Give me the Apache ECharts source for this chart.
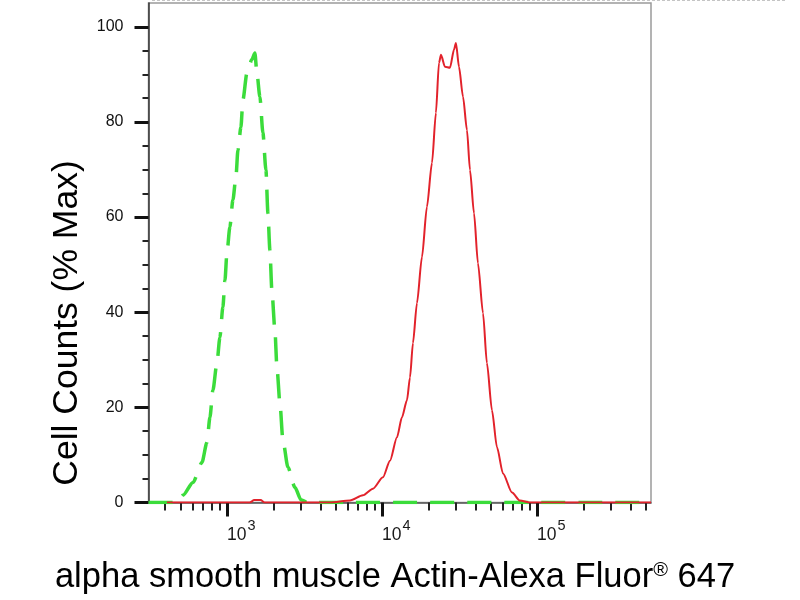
<!DOCTYPE html>
<html><head><meta charset="utf-8">
<script src="https://cdn.jsdelivr.net/npm/echarts@6/dist/echarts.min.js"></script>
<style>html,body{margin:0;padding:0;background:#fff}#c{width:800px;height:600px}</style>
</head><body><div id="c"></div>
<script>
// Axis ranges and ticks
const xMin = 312, xMax = 544000;
const yMin = 0, yMax = 105;
const xMajorTicks = [1000, 10000, 100000];
const xMinorTicks = [400,500,600,700,800,900,2000,3000,4000,5000,6000,7000,8000,9000,20000,30000,40000,50000,60000,70000,80000,90000,200000,300000,400000,500000];
const yMajorTicks = [0, 20, 40, 60, 80, 100];
const yMinorTicks = [5,10,15,25,30,35,45,50,55,65,70,75,85,90,95];

// Isotype control (green dashed)
const controlX = [312, 480, 520, 604, 690, 743, 777, 812, 862, 901, 942, 971, 1000, 1045, 1093, 1143, 1178, 1231, 1268, 1346, 1449, 1515, 1561, 1632, 1707, 1785, 1839, 1893, 1950, 2040, 2102, 2198, 2297, 2476, 2745, 3000, 3300, 544000];
const controlY = [0, 0, 1.5, 4.2, 8.4, 12.6, 17.9, 23.6, 29.3, 34.7, 41.1, 46.7, 52.4, 57.9, 63.6, 68.4, 74.1, 78.9, 84.6, 90.3, 93.1, 94.5, 90.3, 85.3, 77.7, 69.9, 60.8, 53.1, 44.6, 36.2, 28.4, 20.8, 13.1, 7.4, 3.2, 0.6, 0, 0];

// Antibody stained (red)
const stainedX = [410, 1400, 1500, 1650, 1750, 4624, 6223, 7540, 8750, 10145, 11270, 12500, 13460, 14500, 15170, 15850, 16820, 18120, 19500, 21030, 22290, 23330, 24040, 25480, 27470, 29170, 30020, 31400, 33340, 35350, 36980, 39260, 41620, 44870, 47550, 51250, 55210, 60390, 69020, 77640, 90160, 544000];
const stainedY = [0, 0, 0.5, 0.5, 0, 0, 0.4, 1.5, 2.9, 5.3, 8.8, 13.7, 17.9, 21.5, 26.3, 33.5, 41.9, 51.6, 62.1, 71.4, 81.9, 92.4, 94.1, 91.6, 91.4, 95.2, 96.6, 91.6, 85.3, 78.3, 69.9, 60.8, 50.3, 39.8, 29.3, 19.4, 11.6, 6.1, 2.1, 0.4, 0, 0];

const yTitle = 'Cell Counts (% Max)';
const xTitleMain = 'alpha smooth muscle Actin-Alexa Fluor';
const xTitleSup = '®';
const xTitleEnd = ' 647';

const FONT = '"Liberation Sans", Arial, sans-serif';
const pairs = (xs, ys) => xs.map((x, i) => [x, ys[i]]);

const chart = echarts.init(document.getElementById('c'), null, {renderer: 'canvas'});
chart.setOption({
  animation: false,
  backgroundColor: '#fff',
  grid: {left: 148.5, right: 149, top: 3, bottom: 97.5, show: true, borderColor: '#9a9a9a', borderWidth: 1.5, containLabel: false, outerBoundsMode: 'none'},
  xAxis: [{
    type: 'log', logBase: 10, min: xMin, max: xMax, position: 'bottom',
    axisLine: {show: true, lineStyle: {color: '#555', width: 1.5}},
    axisTick: {show: true, customValues: xMajorTicks, length: 14, lineStyle: {color: '#111', width: 3}},
    axisLabel: {
      show: true, customValues: xMajorTicks, margin: 20, align: 'left',
      formatter: v => '{b|10}{s|' + Math.round(Math.log10(v)) + '}',
      rich: {
        b: {fontSize: 17.5, lineHeight: 17, padding: [8, 0, 0, 0], color: '#1a1a1a', fontFamily: FONT},
        s: {fontSize: 14.5, lineHeight: 14, padding: [0, 0, 11, 1], color: '#1a1a1a', fontFamily: FONT}
      }
    },
    splitLine: {show: false}, minorTick: {show: false}
  }, {
    type: 'log', logBase: 10, min: xMin, max: xMax, position: 'bottom',
    axisLine: {show: false},
    axisTick: {show: true, customValues: xMinorTicks, length: 8, lineStyle: {color: '#222', width: 2}},
    axisLabel: {show: false}, splitLine: {show: false}
  }],
  yAxis: [{
    type: 'value', min: yMin, max: yMax, position: 'left',
    axisLine: {show: true, lineStyle: {color: '#333', width: 1.5}},
    axisTick: {show: true, customValues: yMajorTicks, length: 14, lineStyle: {color: '#111', width: 3}},
    axisLabel: {show: true, customValues: yMajorTicks, margin: 25, fontSize: 16, color: '#111', fontFamily: FONT},
    splitLine: {show: false}
  }, {
    type: 'value', min: yMin, max: yMax, position: 'left', offset: 0,
    axisLine: {show: false},
    axisTick: {show: true, customValues: yMinorTicks, length: 6, lineStyle: {color: '#222', width: 2}},
    axisLabel: {show: false}, splitLine: {show: false}
  }],
  series: [{
    name: 'control', type: 'line', xAxisIndex: 0, yAxisIndex: 0,
    data: pairs(controlX, controlY), showSymbol: false, symbol: 'none',
    smooth: 0.25, smoothMonotone: 'x',
    lineStyle: {color: '#3bdc3b', width: 3.5, type: [24, 13]}
  }, {
    name: 'stained', type: 'line', xAxisIndex: 0, yAxisIndex: 0,
    data: pairs(stainedX, stainedY), showSymbol: false, symbol: 'none',
    smooth: 0.25, smoothMonotone: 'x',
    lineStyle: {color: '#e2222b', width: 2}
  }],
  graphic: [{
    type: 'line', shape: {x1: 152, y1: 0.5, x2: 785, y2: 0.5},
    style: {stroke: '#c4c4c4', lineWidth: 1, lineDash: [3, 2]}, silent: true
  }, {
    type: 'text', x: 67, y: 323, rotation: Math.PI / 2,
    style: {text: yTitle, fontSize: 35.5, fontFamily: FONT, fill: '#000', align: 'center', verticalAlign: 'middle'}
  }, {
    type: 'text', x: 395, y: 577,
    style: {
      text: '{t|' + xTitleMain + '}{r|' + xTitleSup + '}{t|' + xTitleEnd + '}',
      align: 'center', verticalAlign: 'middle', fill: '#000',
      rich: {
        t: {fontSize: 34.5, lineHeight: 34, fontFamily: FONT, fill: '#000'},
        r: {fontSize: 20, lineHeight: 20, padding: [0, 0, 14, 0], fontFamily: FONT, fill: '#000'}
      }
    }
  }]
});
</script>
</body></html>
